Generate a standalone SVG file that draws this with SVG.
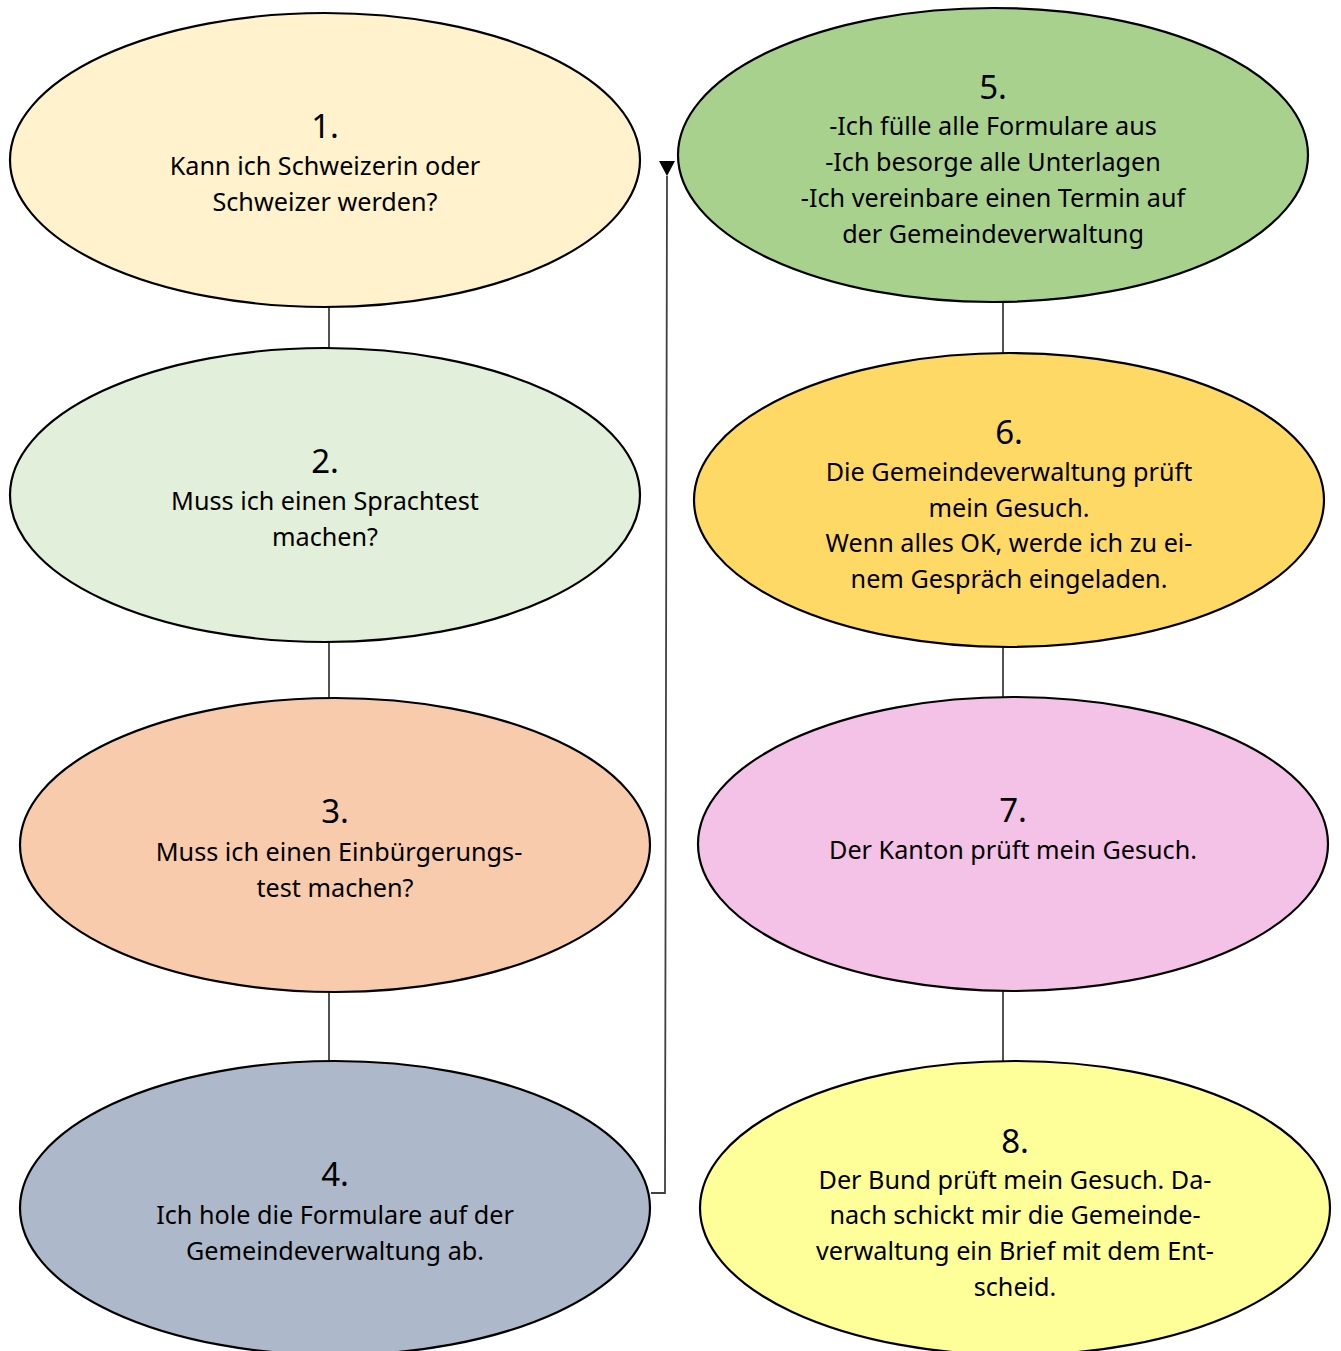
<svg xmlns="http://www.w3.org/2000/svg" width="1341" height="1351" viewBox="0 0 1341 1351">
<style>
.node ellipse{stroke:#000;stroke-width:2.2}
.t{font-family:"Noto Sans","Open Sans",sans-serif;font-size:25.2px;fill:#000;text-anchor:middle}
.n{font-size:33px}
.conn{stroke:#404040;stroke-width:1.8;fill:none}
</style>
<defs>
<marker id="arr" markerWidth="16" markerHeight="15" refX="8" refY="15" orient="0" markerUnits="userSpaceOnUse">
<path d="M0,0 L16,0 L8,15 Z" fill="#000"/>
</marker>
</defs>
<rect width="1341" height="1351" fill="#fff"/>
<g id="connectors">
<line class="conn" x1="329" y1="307" x2="329" y2="348"/>
<line class="conn" x1="329" y1="642" x2="329" y2="698"/>
<line class="conn" x1="329" y1="992" x2="329" y2="1062"/>
<line class="conn" x1="1003" y1="302" x2="1003" y2="354"/>
<line class="conn" x1="1003" y1="647" x2="1003" y2="698"/>
<line class="conn" x1="1003" y1="990" x2="1003" y2="1063"/>
<path class="conn" d="M651,1193 H665 L667,176" marker-end="url(#arr)"/>
</g>
<g id="node1" class="node">
<ellipse cx="325" cy="160" rx="315" ry="147" fill="#FFF2CC"/>
<text class="t n" x="325" y="138">1.</text>
<text class="t" x="325" y="175">Kann ich Schweizerin oder</text>
<text class="t" x="325" y="211">Schweizer werden?</text>
</g>
<g id="node2" class="node">
<ellipse cx="325" cy="495" rx="315" ry="147" fill="#E2EFDA"/>
<text class="t n" x="325" y="473">2.</text>
<text class="t" x="325" y="510">Muss ich einen Sprachtest</text>
<text class="t" x="325" y="546">machen?</text>
</g>
<g id="node3" class="node">
<ellipse cx="335" cy="845" rx="315" ry="147" fill="#F8CBAD"/>
<text class="t n" x="335" y="823">3.</text>
<text class="t" x="339" y="861">Muss ich einen Einbürgerungs-</text>
<text class="t" x="335" y="897">test machen?</text>
</g>
<g id="node4" class="node">
<ellipse cx="335" cy="1208" rx="315" ry="147" fill="#ADB9CA"/>
<text class="t n" x="335" y="1186">4.</text>
<text class="t" x="335" y="1224">Ich hole die Formulare auf der</text>
<text class="t" x="335" y="1260">Gemeindeverwaltung ab.</text>
</g>
<g id="node5" class="node">
<ellipse cx="993" cy="155" rx="315" ry="147" fill="#A9D18E"/>
<text class="t n" x="993" y="99">5.</text>
<text class="t" x="993" y="135">-Ich fülle alle Formulare aus</text>
<text class="t" x="993" y="171">-Ich besorge alle Unterlagen</text>
<text class="t" x="993" y="207">-Ich vereinbare einen Termin auf</text>
<text class="t" x="993" y="243">der Gemeindeverwaltung</text>
</g>
<g id="node6" class="node">
<ellipse cx="1009" cy="500" rx="315" ry="147" fill="#FFD966"/>
<text class="t n" x="1009" y="444">6.</text>
<text class="t" x="1009" y="481">Die Gemeindeverwaltung prüft</text>
<text class="t" x="1009" y="517">mein Gesuch.</text>
<text class="t" x="1009" y="552">Wenn alles OK, werde ich zu ei-</text>
<text class="t" x="1009" y="588">nem Gespräch eingeladen.</text>
</g>
<g id="node7" class="node">
<ellipse cx="1013" cy="844" rx="315" ry="147" fill="#F4C2E6"/>
<text class="t n" x="1013" y="822">7.</text>
<text class="t" x="1013" y="859">Der Kanton prüft mein Gesuch.</text>
</g>
<g id="node8" class="node">
<ellipse cx="1015" cy="1208" rx="315" ry="147" fill="#FFFF99"/>
<text class="t n" x="1015" y="1153">8.</text>
<text class="t" x="1015" y="1189">Der Bund prüft mein Gesuch. Da-</text>
<text class="t" x="1015" y="1224">nach schickt mir die Gemeinde-</text>
<text class="t" x="1015" y="1260">verwaltung ein Brief mit dem Ent-</text>
<text class="t" x="1015" y="1296">scheid.</text>
</g>
</svg>
